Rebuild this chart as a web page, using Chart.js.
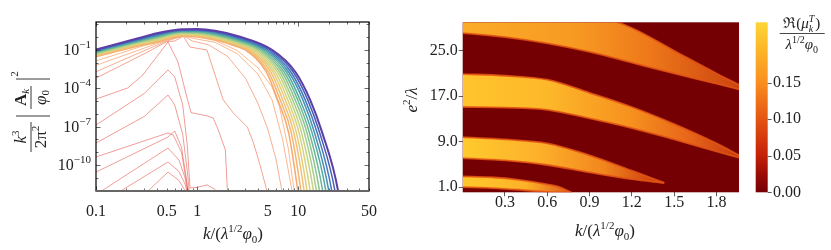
<!DOCTYPE html>
<html>
<head>
<meta charset="utf-8">
<script src="https://cdn.jsdelivr.net/npm/chart.js@4.4.1/dist/chart.umd.min.js"></script>
<style>
  body { margin: 0; background: #fff; }
  #wrap { position: relative; width: 831px; height: 250px; }
  #spectra { position: absolute; left: 0; top: 0; }
  #floquet { position: absolute; left: 380px; top: 0; }
</style>
</head>
<body>
<div id="wrap">
  <canvas id="spectra" width="380" height="250"></canvas>
  <canvas id="floquet" width="451" height="250"></canvas>
</div>
<script>
// ---------- left panel: gauge field spectra, log10 of k^3/(2pi^2)|A_k/phi0|^2 ----------
// early spectra (earliest first), pairs of [k, log10 value]
const earlySpectra = [
  [[0.32, -12.1], [0.515, -10.55], [0.66, -11.2], [0.8, -12.3]],
  [[0.17, -12.1], [0.515, -9.76], [0.66, -10.5], [0.76, -11.5], [0.81, -12.3]],
  [[0.11, -12.1], [0.515, -8.67], [0.66, -9.6], [0.76, -11.0], [0.81, -12.3]],
  [[0.1, -10.55], [0.515, -7.81], [0.6, -7.34], [0.7, -8.6], [0.78, -11.0], [0.82, -12.3]],
  [[0.1, -9.37], [0.515, -7.49], [0.58, -7.65], [0.7, -9.0], [0.79, -11.5], [0.83, -12.3]],
  [[0.1, -8.28], [0.3, -6.2], [0.515, -4.52], [0.6, -5.3], [0.72, -7.6], [0.8, -10.5], [0.84, -12.3]],
  [[0.1, -6.87], [0.3, -4.4], [0.515, -2.56], [0.6, -3.1], [0.72, -5.3], [0.8, -8.5], [0.85, -11.8], [1.0, -11.75], [1.25, -11.55], [1.5, -11.9], [1.6, -12.4]],
  [[0.1, -4.84], [0.206, -3.97], [0.29, -2.96], [0.515, -0.37], [0.647, -1.94], [0.795, -4.76], [0.87, -5.9], [1.0, -6.0], [1.26, -6.16], [1.44, -6.32], [1.62, -7.26], [1.9, -8.82], [2.0, -12.3]],
  [[0.1, -3.2], [0.3, -1.3], [0.5, -0.35], [0.6, -0.3], [0.73, 0.08], [0.85, -0.77], [1.25, -1.0], [1.57, -3.4], [1.81, -4.9], [2.28, -5.93], [3.14, -7.03], [3.61, -8.28], [4.24, -10.15], [5.0, -12.3]],
  [[0.1, -2.7], [0.3, -1.05], [0.5, -0.3], [0.73, 0.1], [0.9, -0.3], [1.3, -0.6], [2.0, -1.5], [3.0, -3.2], [4.0, -5.2], [5.0, -7.2], [6.0, -9.5], [7.0, -12.3]],
  [[0.1, -2.2], [0.3, -0.85], [0.5, -0.22], [0.73, 0.1], [1.0, -0.15], [1.5, -0.4], [2.5, -1.3], [4.0, -2.9], [5.5, -4.9], [7.0, -8.0], [8.8, -12.3]],
  [[0.1, -1.85], [0.3, -0.65], [0.5, -0.12], [0.73, 0.1], [1.0, 0.0], [1.5, -0.25], [2.5, -1.05], [4.0, -2.4], [5.5, -3.9], [6.5, -5.4], [8.0, -8.8], [9.2, -12.3]]
];

// later spectra: body on a shared k grid ...
const kBody = [0.1, 0.25, 0.4, 0.7, 1, 1.5, 2.5];
const logBody = [
  [-1.52, -0.72, -0.40, 0.10, 0.05, -0.20, -0.75],
  [-1.48, -0.67, -0.35, 0.14, 0.10, -0.15, -0.68],
  [-1.43, -0.63, -0.29, 0.18, 0.14, -0.09, -0.62],
  [-1.39, -0.58, -0.24, 0.22, 0.19, -0.04, -0.55],
  [-1.35, -0.54, -0.18, 0.26, 0.23, 0.02, -0.49],
  [-1.30, -0.49, -0.13, 0.30, 0.28, 0.07, -0.42],
  [-1.26, -0.44, -0.07, 0.34, 0.32, 0.13, -0.36],
  [-1.22, -0.40, -0.02, 0.38, 0.37, 0.18, -0.29],
  [-1.17, -0.35, 0.04, 0.42, 0.41, 0.24, -0.23],
  [-1.13, -0.31, 0.09, 0.46, 0.46, 0.29, -0.16],
  [-1.09, -0.26, 0.15, 0.50, 0.50, 0.35, -0.10],
  [-1.05, -0.21, 0.20, 0.54, 0.55, 0.40, -0.03],
  [-1.00, -0.17, 0.26, 0.58, 0.59, 0.46, 0.03],
  [-0.96, -0.12, 0.31, 0.62, 0.64, 0.51, 0.10]
];
// ... and the UV tail: k where each spectrum crosses these log10 levels
const tailLevels = [-1, -2.7, -4.9, -7.5, -12, -13.5];
const kTail = [
  [3.00, 4.81, 6.25, 8.04, 9.89, 10.5],
  [3.15, 5.05, 6.62, 8.54, 10.6, 11.2],
  [3.30, 5.32, 7.01, 9.06, 11.4, 12.0],
  [3.46, 5.60, 7.43, 9.60, 12.2, 12.9],
  [3.62, 5.89, 7.86, 10.2, 13.1, 13.9],
  [3.80, 6.21, 8.32, 10.8, 14.1, 14.9],
  [3.98, 6.53, 8.79, 11.5, 15.1, 16.0],
  [4.18, 6.87, 9.31, 12.2, 16.2, 17.2],
  [4.37, 7.22, 9.86, 12.9, 17.4, 18.4],
  [4.59, 7.62, 10.4, 13.7, 18.7, 19.8],
  [4.81, 8.00, 11.1, 14.5, 20.0, 21.2],
  [5.04, 8.41, 11.7, 15.4, 21.4, 22.7],
  [5.28, 8.87, 12.4, 16.3, 23.0, 24.4],
  [5.54, 9.33, 13.1, 17.3, 24.7, 26.2]
];
const xTicksLeft = [0.1, 0.5, 1, 5, 10, 50];
const yTickExps = [-1, -4, -7, -10];

// ---------- right panel: instability bands of Re(mu_k^T), edges in e^2/lambda ----------
const bandAK = [0, 0.2, 0.4, 0.6, 0.7, 0.77];
const bandATop = [2.9, 2.75, 2.3, 1.5, 0.9, 0.1];
const bandABottom = [1.0, 0.85, 0.55, 0.15, 0.1, 0.1];
const bandBK = [0, 0.3, 0.6, 0.9, 1.2, 1.43];
const bandBTop = [9.8, 9.4, 8.7, 6.6, 3.9, 1.75];
const bandBBottom = [6.1, 5.7, 4.9, 3.6, 2.4, 1.75];
const bandCK = [0, 0.3, 0.6, 0.9, 1.2, 1.5, 1.8, 1.96];
const bandCTop = [20.9, 20.6, 19.9, 17.6, 15.1, 12.1, 8.7, 6.6];
const bandCBottom = [15.1, 15.0, 14.6, 13.1, 11.4, 9.4, 7.3, 6.2];
const bandDK = [0, 0.3, 0.6, 0.9, 1.2, 1.5, 1.8, 1.96];
const bandDTop = [33, 33, 32.5, 31.5, 29.0, 25.0, 21.0, 19.0];
const bandDBottom = [28.1, 27.4, 26.3, 24.8, 22.9, 21.0, 19.2, 18.2];
const kTicksRight = [0.3, 0.6, 0.9, 1.2, 1.5, 1.8];
const eTicks = [1, 9, 17, 25];
const muTicks = [0, 0.05, 0.1, 0.15];
const muMax = 0.2325;

// ---------- styles ----------
const SERIF = "'Liberation Serif', 'DejaVu Serif', serif";
const earlyColors = ['rgba(232,105,95,0.65)', 'rgba(232,105,95,0.65)', 'rgba(232,105,95,0.65)',
  'rgba(232,105,95,0.65)', 'rgba(232,105,95,0.65)', 'rgba(232,105,95,0.65)', 'rgba(232,105,95,0.65)',
  'rgba(232,105,95,0.65)', 'rgba(238,125,98,0.7)', 'rgba(242,140,100,0.7)', 'rgba(245,152,102,0.7)',
  'rgba(246,165,105,0.75)'];
const famColors = ['#f7a86c', '#f5b46f', '#efc274', '#e6cd7a', '#d6d37f', '#c2d384', '#a8cd8a',
  '#8ac48f', '#6cb898', '#55a8a4', '#4791b4', '#4378bd', '#4a5db6', '#5b3ea7'];
const MAROON = '#740004';
const EDGE = 'rgba(228,85,20,0.85)';
const stopsA = [[0, '#ffc72c'], [0.45, '#fdb228'], [0.77, '#e0561a']];
const stopsB = [[0, '#ffca2e'], [0.55, '#fdb02a'], [1.0, '#f2861e'], [1.43, '#c8320c']];
const stopsC = [[0, '#ffc42d'], [0.6, '#fdb82a'], [1.2, '#f6901e'], [1.6, '#e8661a'], [1.96, '#c53a10']];
const stopsD = [[0, '#fbab28'], [0.8, '#f79a22'], [1.3, '#ef7a1a'], [1.96, '#cc4410']];
const cbStops = [[0, '#740004'], [0.1, '#9a0a06'], [0.22, '#c52208'], [0.43, '#e55412'],
  [0.64, '#f88d1e'], [0.85, '#fdb82a'], [1, '#fed535']];

// rich text helpers (sub/superscripts)
function fontOf(p) { return (p.it ? 'italic ' : '') + (p.b ? 'bold ' : '') + p.s + 'px ' + SERIF; }
function richWidth(c, parts) {
  let w = 0;
  parts.forEach(p => { c.font = fontOf(p); w += c.measureText(p.t).width; });
  return w;
}
function drawRich(c, x, y, parts, align) {
  const w = richWidth(c, parts);
  let cx = align === 'center' ? x - w / 2 : align === 'right' ? x - w : x;
  c.textAlign = 'left';
  c.textBaseline = 'alphabetic';
  parts.forEach(p => {
    c.font = fontOf(p);
    c.fillText(p.t, cx, y + (p.dy || 0));
    cx += c.measureText(p.t).width;
  });
}
const kTitle = [{ t: 'k', s: 17, it: true }, { t: '/(', s: 17 }, { t: 'λ', s: 17, it: true },
  { t: '1/2', s: 11, dy: -7 }, { t: 'φ', s: 17, it: true }, { t: '0', s: 11, dy: 4 }, { t: ')', s: 17 }];

// ---------- left chart ----------
const leftSets = [];
earlySpectra.forEach((pts, i) => {
  leftSets.push({
    data: pts.map(p => ({ x: p[0], y: Math.pow(10, p[1]) })),
    borderColor: earlyColors[i], borderWidth: 1, tension: 0
  });
});
logBody.forEach((row, j) => {
  const pts = kBody.map((k, i) => ({ x: k, y: Math.pow(10, row[i]) }))
    .concat(kTail[j].map((k, i) => ({ x: k, y: Math.pow(10, tailLevels[i]) })));
  leftSets.push({
    data: pts, borderColor: famColors[j], borderWidth: j === logBody.length - 1 ? 2 : 1.5,
    cubicInterpolationMode: 'monotone'
  });
});
leftSets.forEach((d, i) => { d.order = leftSets.length - i; d.pointRadius = 0; });

const leftDecor = {
  id: 'leftDecor',
  afterDraw(chart) {
    const c = chart.ctx, a = chart.chartArea, sx = chart.scales.x, sy = chart.scales.y;
    c.save();
    c.strokeStyle = '#444';
    c.lineWidth = 0.8;
    [0.1, 1, 10].forEach(d => {
      for (let m = 1; m <= 9; m++) {
        const v = m * d;
        if (v > 50.01) break;
        const px = Math.round(sx.getPixelForValue(v)) + 0.5;
        const len = m === 1 ? 4.5 : 2.5;
        c.beginPath();
        c.moveTo(px, a.bottom); c.lineTo(px, a.bottom - len);
        c.moveTo(px, a.top); c.lineTo(px, a.top + len);
        c.stroke();
      }
    });
    for (let e = -12; e <= 1; e++) {
      const py = Math.round(sy.getPixelForValue(Math.pow(10, e))) + 0.5;
      const len = yTickExps.includes(e) ? 4.5 : 2.5;
      c.beginPath();
      c.moveTo(a.left, py); c.lineTo(a.left + len, py);
      c.moveTo(a.right, py); c.lineTo(a.right - len, py);
      c.stroke();
    }
    c.strokeStyle = '#000';
    c.lineWidth = 1.2;
    c.strokeRect(a.left, a.top, a.right - a.left, a.bottom - a.top);
    c.strokeStyle = '#666';
    c.lineWidth = 2;
    c.beginPath(); c.moveTo(a.left, a.bottom); c.lineTo(a.right, a.bottom); c.stroke();

    c.fillStyle = '#222';
    yTickExps.forEach(e => {
      const py = sy.getPixelForValue(Math.pow(10, e));
      drawRich(c, 91, py + 5, [{ t: '10', s: 16 }, { t: '\u2212' + Math.abs(e), s: 11, dy: -7 }], 'right');
    });
    drawRich(c, 233, 239, kTitle, 'center');

    // rotated y title: k^3/(2 pi^2) |A_k / phi_0|^2
    c.translate(31, 117);
    c.rotate(-Math.PI / 2);
    c.strokeStyle = '#222';
    c.lineWidth = 0.9;
    drawRich(c, -20, -5, [{ t: 'k', s: 17, it: true }, { t: '3', s: 11, dy: -7 }], 'center');
    drawRich(c, -20, 15, [{ t: '2π', s: 17 }, { t: '2', s: 11, dy: -7 }], 'center');
    c.beginPath(); c.moveTo(-35, 0); c.lineTo(-5, 0); c.stroke();
    c.beginPath(); c.moveTo(1, -15); c.lineTo(1, 19); c.moveTo(38, -15); c.lineTo(38, 19); c.stroke();
    drawRich(c, 19.5, -5, [{ t: 'A', s: 17, b: true }, { t: 'k', s: 11, it: true, dy: 3 }], 'center');
    drawRich(c, 19.5, 15, [{ t: 'φ', s: 17, it: true }, { t: '0', s: 11, dy: 3 }], 'center');
    c.beginPath(); c.moveTo(8, 0); c.lineTo(31, 0); c.stroke();
    drawRich(c, 43, -13, [{ t: '2', s: 11 }], 'center');
    c.restore();
  }
};

new Chart(document.getElementById('spectra'), {
  type: 'line',
  data: { datasets: leftSets },
  options: {
    responsive: false, animation: false, events: [],
    layout: { padding: { top: 22, right: 11, left: 0, bottom: 0 } },
    plugins: { legend: { display: false }, tooltip: { enabled: false } },
    scales: {
      x: {
        type: 'logarithmic', min: 0.1, max: 50,
        afterBuildTicks: s => { s.ticks = xTicksLeft.map(v => ({ value: v })); },
        afterFit: s => { s.height = 59; },
        grid: { display: false }, border: { display: false },
        ticks: {
          autoSkip: false, maxRotation: 0, padding: 3, color: '#222',
          font: { family: SERIF, size: 16 }, callback: v => String(v)
        }
      },
      y: {
        type: 'logarithmic', min: 9.3e-13, max: 15.5,
        afterFit: s => { s.width = 96; },
        grid: { display: false }, border: { display: false },
        ticks: { display: false }
      }
    }
  },
  plugins: [leftDecor]
});

// ---------- right chart ----------
function bandGradient(chart, stops) {
  const { chartArea, scales } = chart;
  if (!chartArea) return 'rgba(0,0,0,0)';
  const k0 = stops[0][0], k1 = stops[stops.length - 1][0];
  const g = chart.ctx.createLinearGradient(scales.x.getPixelForValue(k0), 0, scales.x.getPixelForValue(k1), 0);
  stops.forEach(s => g.addColorStop((s[0] - k0) / (k1 - k0), s[1]));
  return g;
}
function bandSets(ks, top, bottom, stops) {
  return [
    { data: ks.map((k, i) => ({ x: k, y: bottom[i] })), borderColor: EDGE, borderWidth: 1.8, fill: false },
    { data: ks.map((k, i) => ({ x: k, y: top[i] })), borderColor: EDGE, borderWidth: 1.8, fill: '-1',
      backgroundColor: ctx => bandGradient(ctx.chart, stops) }
  ];
}
const rightSets = [].concat(
  bandSets(bandAK, bandATop, bandABottom, stopsA),
  bandSets(bandBK, bandBTop, bandBBottom, stopsB),
  bandSets(bandCK, bandCTop, bandCBottom, stopsC),
  bandSets(bandDK, bandDTop, bandDBottom, stopsD)
);
rightSets.forEach(d => { d.pointRadius = 0; d.cubicInterpolationMode = 'monotone'; d.clip = 0; });

const rightDecor = {
  id: 'rightDecor',
  beforeDatasetsDraw(chart) {
    const c = chart.ctx, a = chart.chartArea;
    c.save();
    c.fillStyle = MAROON;
    c.fillRect(a.left, a.top, a.right - a.left, a.bottom - a.top);
    c.restore();
  },
  afterDraw(chart) {
    const c = chart.ctx, a = chart.chartArea, cb = chart.scales.cb;
    c.save();
    // colour bar
    const x0 = a.right + 16.7, w = 12;
    const yTop = cb.getPixelForValue(muMax), yBot = cb.getPixelForValue(0);
    const g = c.createLinearGradient(0, yBot, 0, yTop);
    cbStops.forEach(s => g.addColorStop(s[0], s[1]));
    c.fillStyle = g;
    c.fillRect(x0, yTop, w, yBot - yTop);
    c.strokeStyle = '#333';
    c.lineWidth = 0.8;
    muTicks.forEach(v => {
      const py = Math.round(cb.getPixelForValue(v)) + 0.5;
      c.beginPath(); c.moveTo(x0 + w, py); c.lineTo(x0 + w + 4, py); c.stroke();
    });
    // colour bar label: Re(mu_k^T) / (lambda^1/2 phi_0)
    c.fillStyle = '#222';
    const cx = 421.7;
    const pre = [{ t: 'ℜ(', s: 15 }, { t: 'μ', s: 15, it: true }];
    const wPre = richWidth(c, pre);
    c.font = fontOf({ s: 10, it: true });
    const wSS = Math.max(c.measureText('T').width, c.measureText('k').width);
    c.font = fontOf({ s: 15 });
    const wClose = c.measureText(')').width;
    const sx0 = cx - (wPre + wSS + wClose + 1) / 2;
    drawRich(c, sx0, 28, pre, 'left');
    c.font = fontOf({ s: 10, it: true });
    c.fillText('T', sx0 + wPre, 22);
    c.fillText('k', sx0 + wPre, 32);
    c.font = fontOf({ s: 15 });
    c.fillText(')', sx0 + wPre + wSS + 1, 28);
    c.lineWidth = 0.9;
    c.beginPath(); c.moveTo(cx - 22, 33.5); c.lineTo(cx + 23, 33.5); c.stroke();
    drawRich(c, cx, 49, [{ t: 'λ', s: 15, it: true }, { t: '1/2', s: 10, dy: -6 },
      { t: 'φ', s: 15, it: true }, { t: '0', s: 10, dy: 4 }], 'center');

    drawRich(c, 225, 236, kTitle, 'center');
    c.translate(37, 100);
    c.rotate(-Math.PI / 2);
    drawRich(c, 0, 0, [{ t: 'e', s: 17, it: true }, { t: '2', s: 11, dy: -7 }, { t: '/', s: 17 },
      { t: 'λ', s: 17, it: true }], 'center');
    c.restore();
  }
};

new Chart(document.getElementById('floquet'), {
  type: 'line',
  data: { datasets: rightSets },
  options: {
    responsive: false, animation: false, events: [],
    layout: { padding: { top: 22.3, right: 0, left: 0, bottom: 0 } },
    plugins: { legend: { display: false }, tooltip: { enabled: false } },
    scales: {
      x: {
        type: 'linear', min: 0, max: 1.96,
        afterBuildTicks: s => { s.ticks = kTicksRight.map(v => ({ value: v })); },
        afterFit: s => { s.height = 57.7; },
        grid: { display: true, drawOnChartArea: false, tickLength: 4, color: '#333', lineWidth: 0.8 },
        border: { display: false },
        ticks: {
          autoSkip: false, maxRotation: 0, padding: -3, color: '#222',
          font: { family: SERIF, size: 16 }, callback: v => v.toFixed(1)
        }
      },
      y: {
        type: 'linear', min: 0.1, max: 30,
        afterBuildTicks: s => { s.ticks = eTicks.map(v => ({ value: v })); },
        afterFit: s => { s.width = 82.7; },
        grid: { display: true, drawOnChartArea: false, tickLength: 4, color: '#333', lineWidth: 0.8 },
        border: { display: false },
        ticks: {
          padding: 1, color: '#222', font: { family: SERIF, size: 16 },
          callback: v => v.toFixed(1)
        }
      },
      cb: {
        type: 'linear', position: 'right', min: 0, max: muMax,
        afterBuildTicks: s => { s.ticks = muTicks.map(v => ({ value: v })); },
        afterFit: s => { s.width = 92; },
        grid: { display: true, drawOnChartArea: false, tickLength: 30, tickColor: 'rgba(0,0,0,0)' },
        border: { display: false },
        ticks: {
          padding: 4, color: '#222', font: { family: SERIF, size: 16 },
          callback: v => v.toFixed(2)
        }
      }
    }
  },
  plugins: [rightDecor]
});
</script>
</body>
</html>
